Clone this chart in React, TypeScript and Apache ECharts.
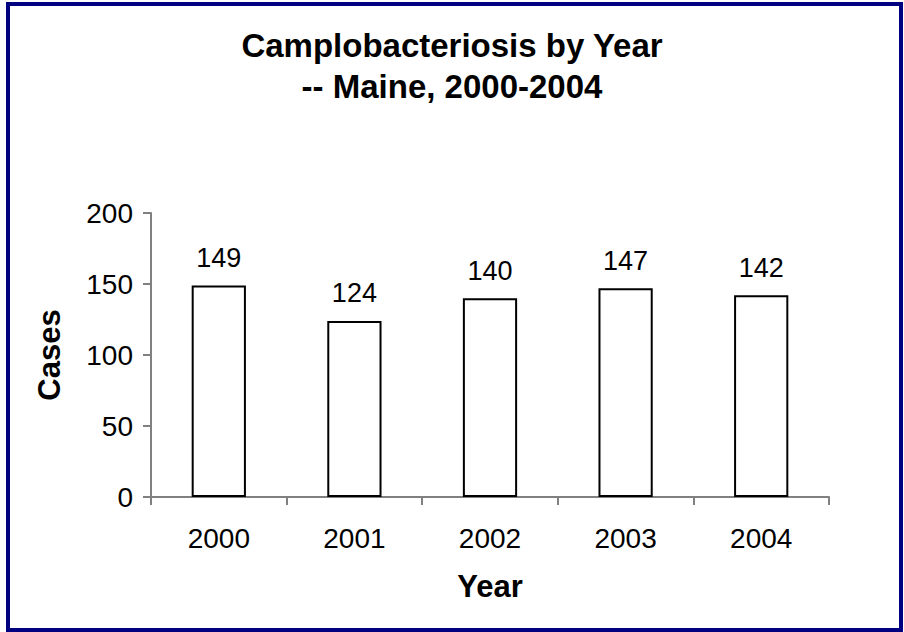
import React, { useEffect, useRef } from "react";
import * as echarts from "echarts";

const categories = ["2000", "2001", "2002", "2003", "2004"];
const cases = [149, 124, 140, 147, 142];
const yTicks = { min: 0, max: 200, interval: 50 };
const titleText = "Camplobacteriosis by Year\n-- Maine, 2000-2004";
const FONT = "Arial, 'Liberation Sans', sans-serif";

export default function App() {
  const ref = useRef<HTMLDivElement>(null);
  useEffect(() => {
    if (!ref.current) return;
    const chart = echarts.init(ref.current, null, { renderer: "svg" });
    chart.setOption({
      animation: false,
      backgroundColor: "#ffffff",
      textStyle: { fontFamily: FONT },
      title: {
        text: titleText,
        left: "center",
        top: 20,
        textStyle: {
          fontFamily: FONT,
          fontSize: 33,
          fontWeight: "bold",
          color: "#000",
          lineHeight: 41,
        },
      },
      graphic: [
        {
          type: "rect",
          shape: { x: 8, y: 4, width: 893, height: 626 },
          style: { fill: "none", stroke: "#000080", lineWidth: 4 },
          silent: true,
        },
      ],
      grid: { left: 151, right: 75, top: 213, bottom: 135, containLabel: false },
      xAxis: {
        type: "category",
        data: categories,
        boundaryGap: true,
        name: "Year",
        nameLocation: "middle",
        nameGap: 74,
        nameTextStyle: { fontFamily: FONT, fontSize: 31, fontWeight: "bold", color: "#000" },
        axisLine: { show: true, lineStyle: { color: "#808080", width: 2 } },
        axisTick: { show: true, alignWithLabel: false, length: 8, lineStyle: { color: "#808080", width: 2 } },
        axisLabel: { fontFamily: FONT, fontSize: 28, color: "#000", margin: 27 },
        splitLine: { show: false },
      },
      yAxis: {
        type: "value",
        min: yTicks.min,
        max: yTicks.max,
        interval: yTicks.interval,
        name: "Cases",
        nameLocation: "middle",
        nameRotate: 90,
        nameGap: 86,
        nameTextStyle: { fontFamily: FONT, fontSize: 31, fontWeight: "bold", color: "#000" },
        axisLine: { show: true, lineStyle: { color: "#808080", width: 2 } },
        axisTick: { show: true, length: 8, lineStyle: { color: "#808080", width: 2 } },
        axisLabel: { fontFamily: FONT, fontSize: 28, color: "#000", margin: 18 },
        splitLine: { show: false },
      },
      series: [
        {
          type: "bar",
          data: cases,
          barWidth: "40%",
          itemStyle: { color: "#ffffff", borderColor: "#000000", borderWidth: 2 },
          label: {
            show: true,
            position: "top",
            distance: 14,
            fontFamily: FONT,
            fontSize: 27,
            color: "#000",
          },
        },
      ],
    });
    return () => chart.dispose();
  }, []);
  return (
    <div
      ref={ref}
      style={{ position: "fixed", left: 0, top: 0, width: 904, height: 632 }}
    />
  );
}
